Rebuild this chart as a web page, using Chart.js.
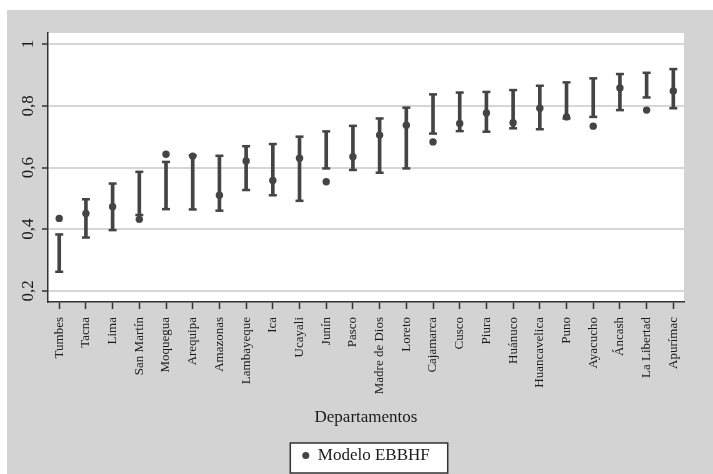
<!DOCTYPE html>
<html>
<head>
<meta charset="utf-8">
<script src="https://cdn.jsdelivr.net/npm/chart.js@4.4.1/dist/chart.umd.min.js"></script>
<style>
  html, body { margin: 0; padding: 0; background: #fff; overflow: hidden; }
  canvas { display: block; }
</style>
</head>
<body>
<canvas id="chart" width="713" height="474"></canvas>
<script>
// values
const departamentos = ['Tumbes', 'Tacna', 'Lima', 'San Martín', 'Moquegua', 'Arequipa', 'Amazonas',
  'Lambayeque', 'Ica', 'Ucayali', 'Junín', 'Pasco', 'Madre de Dios', 'Loreto', 'Cajamarca', 'Cusco',
  'Piura', 'Huánuco', 'Huancavelica', 'Puno', 'Ayacucho', 'Áncash', 'La Libertad', 'Apurímac'];

const estimado = [0.435, 0.451, 0.473, 0.432, 0.643, 0.637, 0.510, 0.621, 0.558, 0.630, 0.554, 0.635,
  0.705, 0.737, 0.683, 0.743, 0.777, 0.745, 0.792, 0.764, 0.734, 0.858, 0.786, 0.848];

const limInf = [0.262, 0.373, 0.397, 0.446, 0.465, 0.464, 0.460, 0.527, 0.510, 0.492, 0.597, 0.592,
  0.583, 0.597, 0.710, 0.718, 0.716, 0.727, 0.724, 0.759, 0.764, 0.786, 0.827, 0.792];

const limSup = [0.383, 0.497, 0.548, 0.586, 0.618, 0.639, 0.638, 0.669, 0.676, 0.700, 0.717, 0.735,
  0.759, 0.794, 0.837, 0.843, 0.845, 0.851, 0.865, 0.876, 0.889, 0.903, 0.907, 0.919];

const yTicks = [0.2, 0.4, 0.6, 0.8, 1];
const yTickLabels = ['0,2', '0,4', '0,6', '0,8', '1'];

const serif = "'Liberation Serif', 'DejaVu Serif', serif";
const markColor = '#444444';
const axisColor = '#333333';

// gray page, white plot area and the framed legend
const background = {
  id: 'background',
  beforeDraw(chart) {
    const { ctx, width, height, chartArea } = chart;
    ctx.save();
    ctx.fillStyle = '#ffffff';
    ctx.fillRect(0, 0, width, height);
    ctx.fillStyle = '#d3d3d3';
    ctx.fillRect(7, 10, width - 7, height - 10);
    ctx.fillStyle = '#ffffff';
    ctx.fillRect(chartArea.left, chartArea.top, chartArea.right - chartArea.left, chartArea.bottom - chartArea.top);

    const hb = chart.legend && chart.legend.legendHitBoxes && chart.legend.legendHitBoxes[0];
    if (hb) {
      const x = hb.left - 12, y = hb.top - 4;
      const w = hb.width + 30, h = hb.height + 13;
      ctx.fillStyle = '#ffffff';
      ctx.fillRect(x, y, w, h);
      ctx.strokeStyle = '#333333';
      ctx.lineWidth = 1.5;
      ctx.strokeRect(x, y, w, h);
    }
    ctx.restore();
  }
};

const ctx = document.getElementById('chart').getContext('2d');
new Chart(ctx, {
  type: 'bar',
  data: {
    datasets: [
      {
        type: 'line',
        label: 'Modelo EBBHF',
        data: estimado.map((v, i) => ({ x: i, y: v })),
        showLine: false,
        pointRadius: 3.7,
        pointBorderWidth: 0,
        pointBackgroundColor: markColor,
        pointBorderColor: markColor,
        backgroundColor: markColor,
        borderColor: markColor
      },
      {
        type: 'line',
        label: 'sup',
        data: limSup.map((v, i) => ({ x: i, y: v })),
        showLine: false,
        pointStyle: 'line',
        pointRadius: 4,
        pointBorderWidth: 2.5,
        pointBorderColor: markColor
      },
      {
        type: 'line',
        label: 'inf',
        data: limInf.map((v, i) => ({ x: i, y: v })),
        showLine: false,
        pointStyle: 'line',
        pointRadius: 4,
        pointBorderWidth: 2.5,
        pointBorderColor: markColor
      },
      {
        type: 'bar',
        label: 'intervalo',
        data: limInf.map((v, i) => ({ x: i, y: [v, limSup[i]] })),
        barThickness: 3,
        backgroundColor: markColor
      }
    ]
  },
  options: {
    responsive: false,
    animation: false,
    events: [],
    layout: { padding: { left: 0, right: 29, top: 33, bottom: 0 } },
    scales: {
      x: {
        type: 'linear',
        min: -0.42,
        max: 23.4,
        offset: false,
        afterBuildTicks: (s) => { s.ticks = departamentos.map((_, i) => ({ value: i })); },
        afterFit: (s) => { s.height = 135; },
        grid: {
          offset: false,
          drawOnChartArea: false,
          tickLength: 7,
          tickColor: axisColor,
          tickWidth: 1.5
        },
        border: { color: axisColor, width: 1.5 },
        ticks: {
          autoSkip: false,
          minRotation: 90,
          maxRotation: 90,
          padding: 8,
          color: '#1a1a1a',
          font: { family: serif, size: 13 },
          callback: (v) => departamentos[v]
        },
        title: {
          display: true,
          text: 'Departamentos',
          color: '#1a1a1a',
          font: { family: serif, size: 17 },
          padding: { top: 0, bottom: 9 }
        }
      },
      y: {
        min: 0.164,
        max: 1.036,
        afterBuildTicks: (s) => { s.ticks = yTicks.map((v) => ({ value: v })); },
        afterFit: (s) => { s.width = 48; },
        grid: {
          color: '#d6d6d6',
          lineWidth: 2,
          tickLength: 6,
          tickColor: axisColor,
          tickWidth: 1.5
        },
        border: { color: axisColor, width: 1.5 },
        ticks: {
          minRotation: 90,
          maxRotation: 90,
          crossAlign: 'center',
          padding: 3,
          color: '#1a1a1a',
          font: { family: serif, size: 17 },
          callback: (v, i) => yTickLabels[i]
        }
      }
    },
    plugins: {
      tooltip: { enabled: false },
      legend: {
        display: true,
        position: 'bottom',
        fullSize: false,
        labels: {
          filter: (item) => item.datasetIndex === 0,
          usePointStyle: true,
          pointStyle: 'circle',
          boxWidth: 7,
          boxHeight: 5,
          padding: 10,
          color: '#1a1a1a',
          font: { family: serif, size: 17 }
        }
      }
    }
  },
  plugins: [background]
});
</script>
</body>
</html>
